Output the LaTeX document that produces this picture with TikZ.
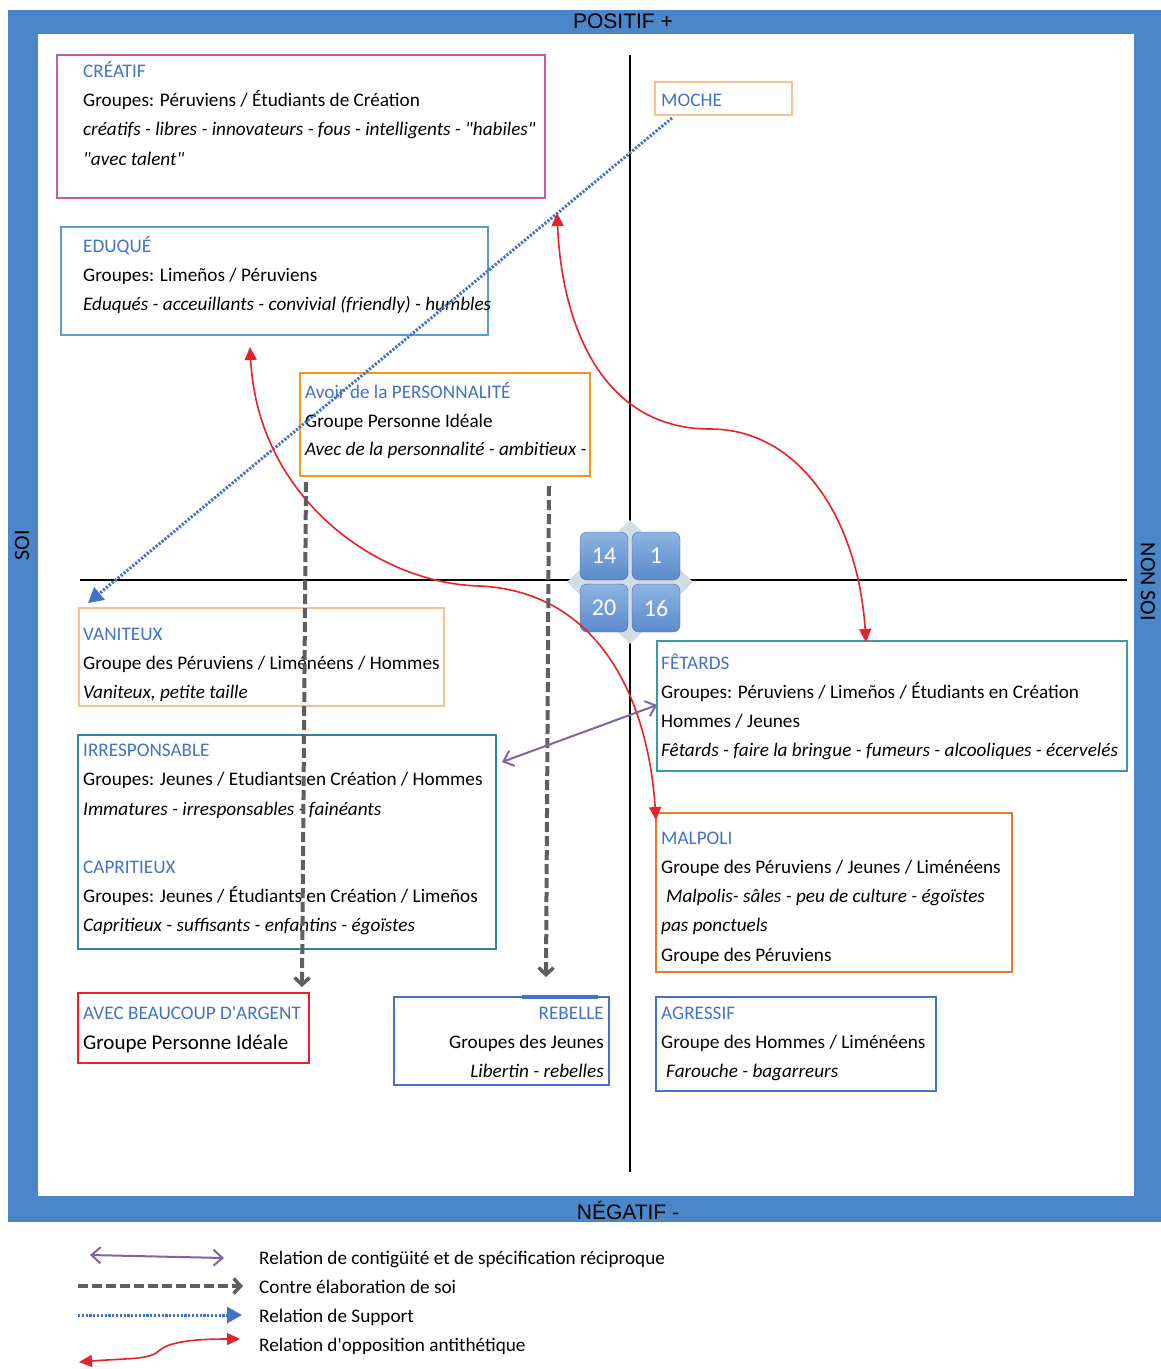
\documentclass[tikz,border=0pt]{standalone}
\usepackage{fontspec}
\newfontfamily\calib{Carlito}
\newfontfamily\arialfont{Liberation Sans}
\usetikzlibrary{arrows.meta,shapes.geometric}
\definecolor{frameblue}{HTML}{4A86C8}
\definecolor{titleblue}{HTML}{4472C4}
\definecolor{cmagenta}{HTML}{C45BA4}
\definecolor{cskyblue}{HTML}{5B9BD5}
\definecolor{clightor}{HTML}{FAC090}
\definecolor{corange}{HTML}{F7941D}
\definecolor{cteal}{HTML}{31849B}
\definecolor{cteal2}{HTML}{3A9AAA}
\definecolor{cdarkor}{HTML}{EC7A2C}
\definecolor{cred}{HTML}{E8212A}
\definecolor{cblue}{HTML}{4472C4}
\definecolor{cpurple}{HTML}{8064A2}
\definecolor{cgray}{HTML}{5F5F5F}
\definecolor{diamondgray}{HTML}{D3DBE6}
\definecolor{tiletop}{HTML}{8DB4E2}
\definecolor{tilebot}{HTML}{5A8BCB}
\tikzset{
  bodyfont/.style={font=\calib\fontsize{19.2}{23}\selectfont},
  ln/.style={anchor=base west, inner sep=0pt, bodyfont},
  lnr/.style={anchor=base east, inner sep=0pt, bodyfont},
  ttl/.style={ln, text=titleblue},
  itl/.style={ln, font=\calib\fontsize{19.2}{23}\selectfont\itshape},
  box/.style={draw, line width=2pt, fill=none, inner sep=0pt},
  tile/.style={rounded corners=7pt, minimum size=48pt, inner sep=0pt, top color=tiletop, bottom color=tilebot, draw=tilebot!80!black, line width=0.4pt, text=white, font=\calib\fontsize{24}{26}\selectfont},
  axislabel/.style={font=\arialfont\fontsize{21}{24}\selectfont, inner sep=0pt},
  sidelabel/.style={font=\calib\fontsize{22}{25}\selectfont, inner sep=0pt},
  redarr/.style={draw=cred, line width=1.6pt, {Triangle[length=13pt,width=12pt,fill=cred]}-{Triangle[length=13pt,width=12pt,fill=cred]}},
  grayarr/.style={draw=cgray, line width=4pt, dash pattern=on 10pt off 4pt, -{Straight Barb[length=7pt,width=15pt,line width=3.5pt]}},
  bluearr/.style={draw=cblue, line width=3pt, dash pattern=on 2.2pt off 1.6pt, -{Triangle[length=15pt,width=16pt,fill=cblue]}},
  purparr/.style={draw=cpurple, line width=2pt, {Straight Barb[length=9pt,width=16pt]}-{Straight Barb[length=9pt,width=16pt]}}
}
\begin{document}
\begin{tikzpicture}[x=1pt,y=-1pt]
\useasboundingbox (0,0) rectangle (1161,1369);
\fill[white] (0,0) rectangle (1161,1369);
\fill[frameblue] (8,10) rectangle (1161,1222);
\fill[white] (38,34) rectangle (1134,1196);
\node[axislabel] (pos) at (623,21) {POSITIF +};
\node[axislabel] (neg) at (628,1210) {NÉGATIF -};
\node[sidelabel, rotate=90] (soi) at (22,545) {SOI};
\node[sidelabel, rotate=-90] (nonsoi) at (1148,582) {NON SOI};

% axes
\coordinate (axT) at (630,55);
\coordinate (axB) at (630,1172);
\coordinate (axL) at (80,580);
\coordinate (axR) at (1127,580);
\draw[line width=2pt] (axT) -- (axB);
\draw[line width=2pt] (axL) -- (axR);

% boxes
\node[box, draw=cmagenta, minimum width=488pt, minimum height=143pt] (creatif) at (301,126.5) {};
\node[ttl] at (83,77) {CRÉATIF};
\node[ln] at (83,106) {Groupes: Péruviens / Étudiants de Création};
\node[itl] at (83,135) {créatifs - libres - innovateurs - fous - intelligents - "habiles"};
\node[itl] at (83,165) {"avec talent"};

\node[box, draw=cskyblue, minimum width=427pt, minimum height=108pt] (eduque) at (274.5,281) {};
\node[ttl] at (83,252) {EDUQUÉ};
\node[ln] at (83,281) {Groupes: Limeños / Péruviens};
\node[itl] at (83,310) {Eduqués - acceuillants - convivial (friendly) - humbles};

\node[box, draw=clightor, minimum width=137pt, minimum height=33pt] (moche) at (723.5,98.5) {};
\node[ttl] at (661,106) {MOCHE};

\node[box, draw=corange, line width=2.4pt, minimum width=290pt, minimum height=103pt] (avoir) at (445,424.5) {};
\node[ttl] at (305,398) {Avoir de la PERSONNALITÉ};
\node[ln] at (305,427) {Groupe Personne Idéale};
\node[itl] at (305,455) {Avec de la personnalité - ambitieux -};

\node[box, draw=clightor, minimum width=365pt, minimum height=98pt] (vaniteux) at (261.5,657) {};
\node[ttl] at (83,640) {VANITEUX};
\node[ln] at (83,669) {Groupe des Péruviens / Liménéens / Hommes};
\node[itl] at (83,698) {Vaniteux, petite taille};

\node[box, draw=cteal, minimum width=418pt, minimum height=214pt] (irresp) at (287,842) {};
\node[ttl] at (83,756) {IRRESPONSABLE};
\node[ln] at (83,785) {Groupes: Jeunes / Etudiants en Création / Hommes};
\node[itl] at (83,815) {Immatures - irresponsables - fainéants};
\node[ttl] at (83,873) {CAPRITIEUX};
\node[ln] at (83,902) {Groupes: Jeunes / Étudiants en Création / Limeños};
\node[itl] at (83,931) {Capritieux - suffisants - enfantins - égoïstes};

\node[box, draw=cteal2, minimum width=470pt, minimum height=130pt] (fetards) at (892,706) {};
\node[ttl] at (661,669) {FÊTARDS};
\node[ln] at (661,698) {Groupes: Péruviens / Limeños / Étudiants en Création};
\node[ln] at (661,727) {Hommes / Jeunes};
\node[itl] at (661,756) {Fêtards - faire la bringue - fumeurs - alcooliques - écervelés};

\node[box, draw=cdarkor, minimum width=356pt, minimum height=159pt] (malpoli) at (834,892.5) {};
\node[ttl] at (661,844) {MALPOLI};
\node[ln] at (661,873) {Groupe des Péruviens / Jeunes / Liménéens};
\node[itl] at (666,902) {Malpolis- sâles - peu de culture - égoïstes};
\node[itl] at (661,931) {pas ponctuels};
\node[ln] at (661,961) {Groupe des Péruviens};

\node[box, draw=cred, minimum width=231pt, minimum height=70pt] (argent) at (193.5,1028) {};
\node[ttl] at (83,1019) {AVEC BEAUCOUP D'ARGENT};
\node[ln, font=\calib\fontsize{21}{24}\selectfont] at (83,1049) {Groupe Personne Idéale};

\node[box, draw=cblue, minimum width=215pt, minimum height=88pt] (rebelle) at (501.5,1041) {};
\draw[cblue, line width=3.5pt] (522,997) -- (598,997);
\node[lnr, text=titleblue] at (604,1019) {REBELLE};
\node[lnr] at (604,1048) {Groupes des Jeunes};
\node[lnr, font=\calib\fontsize{19.2}{23}\selectfont\itshape] at (604,1077) {Libertin - rebelles};

\node[box, draw=cblue, minimum width=280pt, minimum height=94pt] (agressif) at (796,1044) {};
\node[ttl] at (661,1019) {AGRESSIF};
\node[ln] at (661,1048) {Groupe des Hommes / Liménéens};
\node[itl] at (666,1077) {Farouche - bagarreurs};

% center tiles
\node[diamond, fill=diamondgray, minimum width=126pt, minimum height=124pt, inner sep=0pt] (dia) at (630,582) {};
\node[tile] (t14) at (604,556) {14};
\node[tile] (t1) at (656,556) {1};
\node[tile] (t20) at (604,608) {20};
\node[tile] (t16) at (656,608) {16};

% connectors
\coordinate (mocheS) at (672,118);
\coordinate (vanT) at (88,603);
\draw[bluearr] (mocheS) -- (vanT);

\coordinate (r1a) at (557,213);
\coordinate (r1m) at (710,429);
\coordinate (r1b) at (866,642);
\draw[redarr] (r1a) .. controls (562,330) and (605,429) .. (r1m) .. controls (800,429) and (858,520) .. (r1b);

\coordinate (r2a) at (250,347);
\coordinate (r2m) at (480,586);
\coordinate (r2b) at (656,820);
\draw[redarr] (r2a) .. controls (258,500) and (380,584) .. (r2m) .. controls (600,592) and (648,700) .. (r2b);

\coordinate (g1a) at (306,482);
\coordinate (g1b) at (302,987);
\draw[grayarr] (g1a) -- (g1b);
\coordinate (g2a) at (549,486);
\coordinate (g2b) at (546,977);
\draw[grayarr] (g2a) -- (g2b);

\coordinate (pa) at (502,762);
\coordinate (pb) at (657,705);
\draw[purparr] (pa) -- (pb);

% legend
\coordinate (l1a) at (90,1255);
\coordinate (l1b) at (224,1258);
\draw[purparr] (l1a) -- (l1b);
\node[ln] (lt1) at (259,1264) {Relation de contigüité et de spécification réciproque};
\coordinate (l2a) at (78,1286);
\coordinate (l2b) at (243,1286);
\draw[grayarr] (l2a) -- (l2b);
\node[ln] (lt2) at (259,1293) {Contre élaboration de soi};
\coordinate (l3a) at (78,1315);
\coordinate (l3b) at (242,1315);
\draw[bluearr] (l3a) -- (l3b);
\node[ln] (lt3) at (259,1322) {Relation de Support};
\coordinate (l4a) at (79,1362);
\coordinate (l4b) at (240,1339);
\draw[redarr] (l4a) .. controls (130,1358) and (150,1360) .. (160,1350) .. controls (172,1340) and (205,1339) .. (l4b);
\node[ln] (lt4) at (259,1351) {Relation d'opposition antithétique};
\end{tikzpicture}
\end{document}
